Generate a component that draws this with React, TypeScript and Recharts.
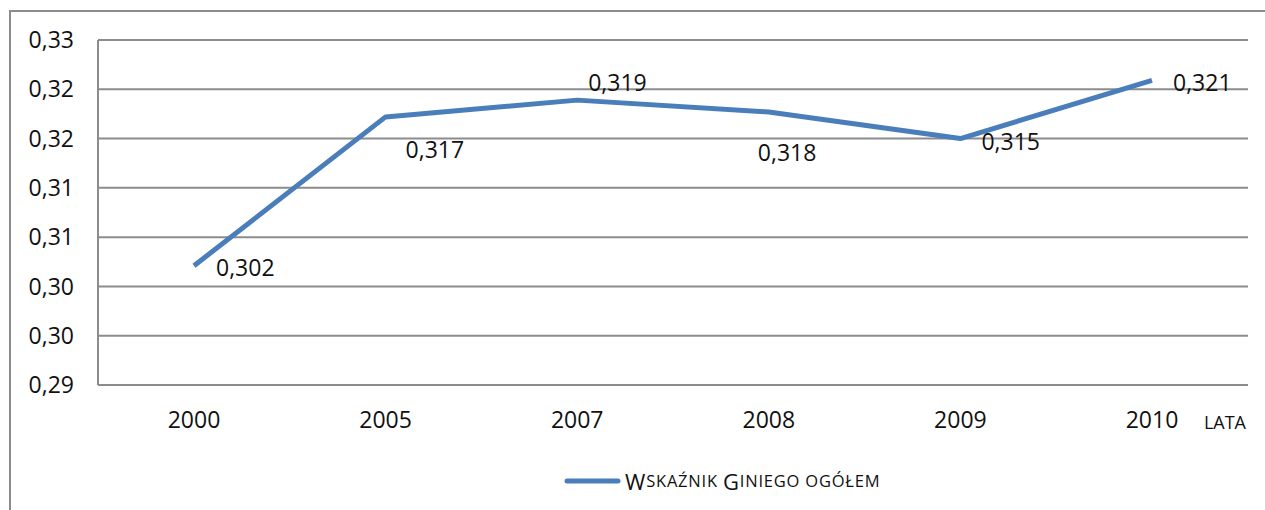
import React from 'react';
import { LineChart, Line, XAxis, YAxis, CartesianGrid, Legend, LabelList } from 'recharts';

const years = ['2000', '2005', '2007', '2008', '2009', '2010'];
const giniValues = [0.3021, 0.3172, 0.3189, 0.3177, 0.315, 0.3209];
const yTicks = [0.29, 0.295, 0.3, 0.305, 0.31, 0.315, 0.32, 0.325];
const yTickLabels = ['0,29', '0,30', '0,30', '0,31', '0,31', '0,32', '0,32', '0,33'];
const seriesName = 'Wskaźnik Giniego ogółem';

const data = years.map((y, i) => ({ year: y, gini: giniValues[i] }));

// label placement (style only)
const LABEL_DX = [22, 20, 11, -11, 21, 21];
const LABEL_DY = [1, 32, -18, 40, 2, 2];

const FONT = '"Open Sans", "Noto Sans", sans-serif';
const GRID = '#8c8c8c';
const LINE = '#4a7ebb';

const DataLabel = (props: any) => {
  const { x, y, value, index } = props;
  const txt = Number(value).toFixed(3).replace('.', ',');
  return (
    <text
      x={x + LABEL_DX[index]}
      y={y + LABEL_DY[index]}
      textAnchor="start"
      dominantBaseline="central"
      fontFamily={FONT}
      fontSize={23}
      fill="#111"
    >
      {txt}
    </text>
  );
};

const LegendContent = () => (
  <div style={{ height: 40, display: 'flex', alignItems: 'center', fontFamily: FONT, color: '#111', letterSpacing: 0.8, whiteSpace: 'nowrap' }}>
    <svg width={59} height={12} style={{ marginRight: 2 }}>
      <line x1={3} y1={6} x2={54} y2={6} stroke={LINE} strokeWidth={5} strokeLinecap="round" />
    </svg>
    <span style={{ fontSize: 22, lineHeight: 1 }}>W</span>
    <span style={{ fontSize: 16.5, lineHeight: 1 }}>SKAŹNIK&nbsp;</span>
    <span style={{ fontSize: 22, lineHeight: 1 }}>G</span>
    <span style={{ fontSize: 16.5, lineHeight: 1 }}>INIEGO OGÓŁEM</span>
  </div>
);

export default function App() {
  return (
    <div style={{ position: 'absolute', left: 0, top: 0, width: 1265, height: 510, overflow: 'hidden', background: '#fff' }}>
      <div
        style={{
          position: 'absolute',
          left: 9,
          top: 10,
          width: 1400,
          height: 700,
          border: `2px solid ${GRID}`,
          boxSizing: 'border-box',
        }}
      />
      <div style={{ position: 'absolute', left: 0, top: 0 }}>
        <LineChart width={1265} height={510} data={data} margin={{ top: 40, right: 17, left: 0, bottom: 9 }}>
          <CartesianGrid vertical={false} stroke={GRID} strokeWidth={2} />
          <XAxis
            dataKey="year"
            height={76}
            padding={{ left: 96, right: 96 }}
            axisLine={{ stroke: GRID, strokeWidth: 2 }}
            tickLine={false}
            tickSize={6}
            tickMargin={21}
            tick={{ fontFamily: FONT, fontSize: 23, fill: '#111' }}
            label={{ value: 'LATA', position: 'insideRight', offset: 2, style: { fontFamily: FONT, fontSize: 18, fill: '#111' } }}
          />
          <YAxis
            width={98}
            domain={[0.29, 0.325]}
            ticks={yTicks}
            interval={0}
            allowDataOverflow
            axisLine={{ stroke: GRID, strokeWidth: 2 }}
            tickLine={false}
            tickSize={6}
            tickMargin={18}
            tick={{ fontFamily: FONT, fontSize: 23, fill: '#111' }}
            tickFormatter={(v: number, i: number) => yTickLabels[i]}
          />
          <Legend
            verticalAlign="bottom"
            align="left"
            height={40}
            content={<LegendContent />}
            wrapperStyle={{ left: 564, width: 'auto' }}
          />
          <Line
            type="linear"
            dataKey="gini"
            name={seriesName}
            stroke={LINE}
            strokeWidth={5}
            strokeLinejoin="round"
            dot={false}
            activeDot={false}
            isAnimationActive={false}
          >
            <LabelList dataKey="gini" content={<DataLabel />} />
          </Line>
        </LineChart>
      </div>
    </div>
  );
}
